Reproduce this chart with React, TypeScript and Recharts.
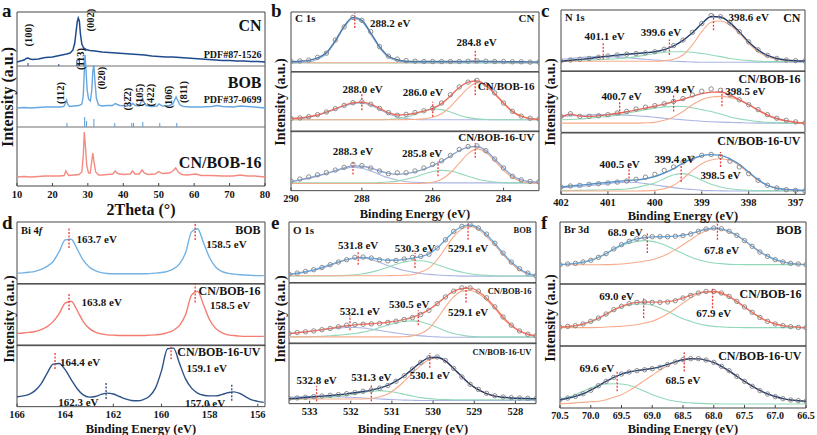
import React from "react";
import {
  ComposedChart,
  Line,
  Scatter,
  XAxis,
  YAxis,
  ReferenceArea,
  ReferenceLine,
  ReferenceDot,
} from "recharts";

const SERIF = "'Liberation Serif', 'Times New Roman', serif";
const INK = "#141414";
const FRAME = "#454545";
const PEACH = "#f8ab8b";
const MINT = "#92d8b9";
const LILAC = "#aab5e3";
const SKY = "#8fb8de";
const RED = "#ee3a3a";
const NAVY_MARK = "#31427e";
const PAD = 16; // room around each plot so edge labels are not clipped

// ---------- panel a: XRD ----------
const xrdTicks = [10, 20, 30, 40, 50, 60, 70, 80];

const cnTheta = [10, 11, 12, 12.6, 13.1, 13.7, 14.5, 16, 18, 20, 22, 24, 25, 25.8, 26.3, 26.7, 27.0, 27.3, 27.6, 27.9, 28.3, 28.8, 29.5, 30.5, 32, 34, 36, 38, 40, 42, 44, 46, 48, 50, 52, 54, 56, 58, 60, 62, 64, 66, 68, 70, 72, 74, 76, 78, 80];
const cnInt = [124, 125, 126, 127.5, 128, 127, 126.5, 127, 128.5, 129, 130.5, 132, 133, 136, 143, 155, 164, 168, 165, 152, 142, 138, 136.5, 135.5, 135, 134, 133.5, 133, 132.5, 132, 131.5, 131, 130, 129.5, 129, 129, 128.5, 128, 127.5, 127, 126.5, 126, 125.5, 125.5, 125, 125, 124.5, 124.5, 124];

const bobTheta = [10, 12, 14, 16, 18, 20, 22, 23.2, 23.7, 24.0, 24.3, 24.8, 26, 27.5, 28.3, 28.7, 29.0, 29.2, 29.45, 29.8, 30.2, 30.7, 31.1, 31.4, 31.7, 32.0, 32.4, 33, 34, 35.5, 37, 37.7, 38.3, 39, 41, 42.2, 42.7, 43.4, 44.5, 45.0, 45.4, 45.8, 46.5, 48, 49.5, 50.1, 51, 53, 54, 54.5, 54.9, 55.3, 56, 57, 59, 62, 65, 66.5, 68, 71, 73, 75, 77, 80];
const bobInt = [78, 78.5, 78, 78.5, 79, 79, 79, 79.5, 83, 86, 82, 79.5, 80, 80.5, 82, 90, 115, 131, 118, 96, 87, 85, 95, 115, 121, 105, 88, 81, 80, 80.5, 80.5, 82.5, 81.5, 80.5, 80, 81, 82.5, 80.5, 80, 84, 88, 84, 80.5, 79.5, 80, 82, 80, 80.5, 82, 86, 89, 86, 81, 79.5, 79, 79, 79.5, 80.5, 79.5, 79, 80, 79.5, 79, 78];

const mixTheta = [10, 12, 14, 16, 18, 20, 22, 23.3, 23.8, 24.1, 24.6, 26, 27.5, 28.3, 28.7, 29.0, 29.3, 29.7, 30.2, 30.7, 31.0, 31.4, 31.7, 32.2, 33, 34, 35.5, 37, 37.7, 38.4, 40, 42, 42.6, 43.3, 44.5, 45.3, 45.9, 47, 49, 50.0, 51, 53, 54, 54.8, 55.5, 56.5, 58, 60.5, 62, 65, 68, 71, 73, 75, 77, 80];
const mixInt = [9, 9.5, 9, 9.5, 10, 10, 10, 10.5, 15, 13, 10.5, 11, 11.5, 14, 30, 54, 40, 20, 13, 13, 22, 33, 25, 14, 11, 11, 11.5, 12, 15, 12.5, 11.5, 12, 15, 12, 12, 16, 13, 11.5, 12, 14.5, 12.5, 13, 15, 18, 14, 11.5, 11, 12, 10.5, 10.5, 10, 10, 11, 10, 10, 9];

const cnRefTheta = [13.1, 21.8, 26.9, 27.6];
const cnRefLen = [3, 2, 6, 8];
const bobRefTheta = [24.1, 29.1, 29.6, 31.7, 37.6, 42.4, 42.9, 45.5, 50.3, 55.1];
const bobRefLen = [4, 10, 6, 8, 4, 4, 4, 5, 4, 4];

const planes = [
  { text: "(100)", theta: 13.1, y: 151 },
  { text: "(002)", theta: 30.8, y: 166 },
  { text: "(112)", theta: 22.1, y: 93 },
  { text: "(113)", theta: 27.8, y: 127 },
  { text: "(020)", theta: 33.9, y: 108 },
  { text: "(32\u03042)", theta: 41.0, y: 87 },
  { text: "(105)", theta: 44.4, y: 91 },
  { text: "(422)", theta: 47.7, y: 91 },
  { text: "(106\u0304)", theta: 52.7, y: 89 },
  { text: "(811)", theta: 57.0, y: 94 },
];
const xrdTags = [
  { text: "CN", y: 161, size: 16 },
  { text: "PDF#87-1526", y: 132, size: 10 },
  { text: "BOB", y: 104, size: 16 },
  { text: "PDF#37-0699", y: 87, size: 10 },
  { text: "CN/BOB-16", y: 24, size: 16 },
];

// ---------- panel b: C 1s ----------
const bGrid = [290, 289.75, 289.5, 289.25, 289, 288.75, 288.5, 288.25, 288, 287.75, 287.5, 287.25, 287, 286.75, 286.5, 286.25, 286, 285.75, 285.5, 285.25, 285, 284.75, 284.5, 284.25, 284, 283.75, 283.5, 283.25, 283];
const b1Obs = [17, 18, 19.5, 24, 31, 53, 75, 91, 86, 67, 42, 26, 21, 18.5, 17.5, 17, 17, 17, 17, 17, 17.5, 18, 17.5, 17, 17, 16.5, 16.5, 16, 16];
const b1Fit = [16.5, 17.5, 19, 23, 32, 52, 76, 91, 86, 65, 42, 26, 20, 17.5, 17, 17, 17, 17, 17, 17, 17.2, 17.5, 17.2, 17, 16.8, 16.6, 16.5, 16.4, 16.3];
const b1Main = [15, 15.5, 16.5, 21, 30, 50, 74, 89, 84, 63, 40, 24, 18, 16, 15.5, 15.2, 15, 15, 15, 15, 15, 15, 15, 15, 15, 15, 15, 15, 15];
const b1Peach = [15, 15, 15, 15, 15, 15, 15, 15, 15, 15, 15, 15, 15, 15, 15, 15, 15, 15, 15.2, 15.6, 16.2, 16.5, 16.2, 15.6, 15.2, 15, 15, 15, 15];
const b1Mint = [14.5, 14.5, 14.5, 14.5, 14.5, 14.5, 14.5, 14.5, 14.5, 14.5, 14.5, 14.5, 14.5, 14.5, 14.5, 14.5, 14.5, 14.5, 14.5, 14.5, 14.5, 14.5, 14.5, 14.5, 14.5, 14.5, 14.5, 14.5, 14.5];
const b2Obs = [22, 23, 25, 28.5, 33, 38.5, 44, 48.5, 50, 46, 39, 32, 27.5, 29, 32, 35, 39, 48, 62, 75, 83, 86, 79, 65, 48, 34, 26, 22.5, 21];
const b2Fit = [22, 23, 25, 28, 33, 38.5, 44, 48.5, 49.5, 46, 39, 32, 28, 28.5, 31, 34.5, 39, 47, 60, 74, 83, 85, 78, 64, 48, 34, 26, 22, 20.5];
const b2Peach = [20, 20, 20, 20, 20, 20, 20, 20, 20, 20, 20, 20, 20, 20.2, 20.5, 21.5, 24, 30, 42, 58, 73, 82, 77, 63, 47, 33, 25.5, 21.5, 20.5];
const b2Mint = [20, 20, 20, 20, 20, 20, 20, 20, 20, 20, 20, 20.5, 21.5, 24, 29, 34.5, 38, 37, 33, 27.5, 23.5, 21.5, 20.5, 20, 20, 20, 20, 20, 20];
const b2Lilac = [21, 22, 24, 27.5, 32, 37.5, 43, 47, 48, 44, 37, 30, 25, 22, 20.5, 20, 20, 20, 20, 20, 20, 20, 20, 20, 20, 20, 20, 20, 20];
const b3Obs = [16, 19.5, 23, 26.5, 30, 34.5, 39, 44, 42, 38, 33, 28.5, 30, 30, 33, 38, 44, 50, 59, 69, 74, 75, 67, 53, 38, 24, 18, 15.5, 15];
const b3Fit = [15, 18, 21.5, 25, 29, 33.5, 38, 41.5, 41, 38, 33, 29, 27.5, 28.5, 31.5, 36, 42, 49, 58, 67, 73, 74, 67, 53, 38, 25, 18, 15, 14];
const b3Lilac = [15, 17.5, 20.5, 24.5, 28.5, 33, 37, 39, 37.5, 33, 27, 21.5, 17.5, 15, 14, 13.5, 13, 13, 13, 13, 13, 13, 13, 13, 13, 13, 13, 13, 13];
const b3Mint = [13, 13, 13, 13, 13, 13, 13, 13, 13, 13, 13.5, 14.5, 16, 19, 23, 28, 32, 34, 33, 29, 24, 19.5, 16.5, 14.5, 13.5, 13, 13, 13, 13];
const b3Peach = [12, 12, 12, 12, 12, 12, 12, 12, 12, 12, 12, 12, 12, 12, 12, 12.5, 14, 19, 30, 46, 62, 70, 64, 50, 34, 22, 15.5, 13, 12];

// ---------- panel c: N 1s ----------
const cGrid = [402, 401.8, 401.6, 401.4, 401.2, 401, 400.8, 400.6, 400.4, 400.2, 400, 399.8, 399.6, 399.4, 399.2, 399, 398.8, 398.6, 398.4, 398.2, 398, 397.8, 397.6, 397.4, 397.2, 397, 396.8];
const c1Obs = [16.8, 18.5, 19.6, 21, 23, 25, 26.6, 28, 29, 30, 32, 36, 42, 51, 63.6, 78, 91, 89, 79, 64.7, 48, 35, 26, 21, 18.5, 17.4, 16.8];
const c1Fit = [16.5, 18, 19.5, 21, 23, 24.8, 26.5, 27.8, 29, 30.2, 32, 35.5, 41.5, 50.5, 63, 77.5, 89.5, 88.5, 79, 64.5, 48, 35, 26, 21, 18.5, 17.2, 16.8];
const c1Peach = [16.5, 16.5, 16.5, 16.5, 16.5, 16.5, 16.5, 16.5, 16.5, 16.5, 16.5, 17.4, 19.6, 26.6, 43, 64.7, 80, 82, 75.5, 62, 45.7, 32, 24, 19.6, 17.4, 16.8, 16.5];
const c1Mint = [17, 17.5, 18, 18.5, 19, 19.6, 20.5, 22, 24, 26.5, 29, 31, 32, 32, 31, 29, 26.6, 24, 21, 19, 17.4, 16.5, 15.8, 15.8, 15.8, 15.8, 15.8];
const c1Lilac = [19.6, 21, 22.5, 23.5, 24, 24, 23.5, 22.5, 21, 19.6, 18.5, 17.4, 16.5, 15.8, 15.3, 14.7, 14.7, 14.7, 14.7, 14.7, 14.7, 14.7, 14.7, 14.7, 14.7, 14.7, 14.7];
const c2Obs = [26, 30.4, 26, 26, 27, 28.8, 31.5, 34, 38, 41, 43.5, 46.7, 50.5, 55, 61, 67, 70.7, 68.5, 61.4, 53, 45, 37, 28.8, 23, 19.6, 17, 15.2];
const c2Fit = [25, 29.5, 26.5, 26, 27, 28.8, 31, 33.5, 36.5, 39.5, 42.5, 46, 50, 54, 58.7, 63, 65.5, 65.8, 61, 53, 45, 36.5, 28.5, 22.5, 19, 16.5, 15];
const c2Peach = [15, 15, 15, 15, 15, 15, 15, 15, 15, 15.5, 16.3, 19.6, 25, 34, 45, 53, 57.5, 58.7, 57, 53, 45, 36, 27, 21.7, 18, 15.8, 14.7];
const c2Mint = [20.6, 21, 21.7, 23, 24.5, 26, 28, 31, 34, 37, 39.5, 41.5, 42.4, 42, 40, 37, 34, 30, 25, 22, 19.6, 17.5, 16.3, 15.5, 15, 15, 15];
const c2Lilac = [25, 26.5, 27.5, 28.3, 28.8, 28.8, 28.5, 28, 27, 26, 24.5, 23, 21.7, 20.5, 19.3, 18, 17.2, 16.6, 16.2, 15.8, 15.2, 15, 15, 15, 15, 15, 15];
const c3Obs = [12, 13.6, 14.7, 16.3, 17.4, 18.5, 20, 21.7, 24.5, 28, 32.6, 39, 44.6, 52.7, 59, 63.6, 65, 62, 54, 44.6, 33.7, 22.8, 14.7, 10.3, 7.6, 6.5, 5.4];
const c3Fit = [12, 13.6, 15, 16.5, 18, 19.5, 21, 22.5, 23.5, 25.5, 29, 34.8, 41.8, 51, 58, 63, 64.7, 63.6, 58, 49, 36.4, 24, 14.7, 10, 8, 7, 6.5];
const c3Peach = [5.4, 5.4, 5.4, 5.4, 5.4, 5.4, 5.4, 5.4, 5.4, 5.6, 6.5, 9, 14.7, 25.5, 39, 50, 56, 58, 55.4, 47, 35, 22.8, 14.7, 9.8, 7.6, 6.5, 6];
const c3Mint = [6, 6.2, 6.5, 6.8, 7, 7.5, 8, 8.7, 10.9, 14.7, 18.5, 25.5, 32, 33.7, 30, 22.8, 16.3, 12, 9.2, 7.5, 6.5, 6, 6, 6, 6, 6, 6];
const c3Lilac = [10.9, 11.8, 13, 14, 15.5, 17.4, 18.8, 19.6, 19.4, 17.4, 15.2, 13, 11, 9.2, 7.8, 6.5, 6, 5.7, 5.4, 5.4, 5.4, 5.4, 5.4, 5.4, 5.4, 5.4, 5.4];

// ---------- panel d: Bi 4f ----------
const dGrid = [166, 165.75, 165.5, 165.25, 165, 164.75, 164.5, 164.25, 164, 163.75, 163.5, 163.25, 163, 162.75, 162.5, 162.25, 162, 161.75, 161.5, 161.25, 161, 160.75, 160.5, 160.25, 160, 159.75, 159.5, 159.25, 159, 158.75, 158.5, 158.25, 158, 157.75, 157.5, 157.25, 157, 156.75, 156.5, 156.25, 156, 155.75];
const d1Fit = [17, 17.5, 18.5, 20, 23, 28, 36, 52, 71, 72, 56, 38, 27, 21, 18, 16.5, 16, 16, 16, 16, 16, 16, 16.3, 17, 18, 20, 24, 32, 50, 84, 89, 66, 42, 27, 20, 17, 15.5, 14.5, 14, 13.5, 13, 13];
const d2Fit = [20, 20.5, 21.5, 23, 26, 31, 39, 52, 69, 72, 57, 39, 28, 22, 19, 17.5, 17, 16.5, 16.5, 16.5, 16.5, 16.5, 17, 17.5, 18.5, 21, 25, 33, 50, 82, 88, 66, 42, 28, 21, 17.5, 16.5, 15.5, 15, 15, 15, 15];
const d3Fit = [16, 17.5, 20, 26, 37, 54, 69, 70, 60, 44, 29, 19, 15.5, 16.5, 20, 22, 20.5, 16.5, 12.5, 10, 9.5, 11.5, 17, 30, 58, 94, 95, 70, 45, 30, 22, 18.5, 17.5, 17.5, 19.5, 22.5, 24, 21.5, 16, 11, 8.5, 7];

// ---------- panel e: O 1s ----------
const eGrid = [533.5, 533.3, 533.1, 532.9, 532.7, 532.5, 532.3, 532.1, 531.9, 531.7, 531.5, 531.3, 531.1, 530.9, 530.7, 530.5, 530.3, 530.1, 529.9, 529.7, 529.5, 529.3, 529.1, 528.9, 528.7, 528.5, 528.3, 528.1, 527.9, 527.7, 527.5];
const e1Obs = [14, 15.8, 18.5, 21.3, 25, 29.6, 34, 37.8, 41.7, 42.2, 40.6, 37.8, 36, 36.6, 39, 41.7, 43.3, 47, 57, 70.7, 84.6, 92.8, 95.6, 90, 80, 65, 48.8, 34, 23, 15.8, 11.4];
const e1Fit = [13.5, 15.5, 18, 21, 25, 29.5, 34, 38, 40.5, 41.5, 40.5, 38.5, 37, 37, 38.5, 40.5, 43, 47.5, 57, 70.5, 84, 92.5, 95, 90, 79.5, 64.5, 48.5, 34, 23, 15.5, 11.5];
const e1Peach = [11.4, 11.4, 11.4, 11.4, 11.4, 11.4, 11.4, 11.4, 11.4, 11.4, 11.4, 11.4, 11.5, 11.7, 12.2, 13, 17.4, 24, 37.8, 57, 76, 89, 92.8, 87.4, 76, 62, 46, 32, 21, 14.6, 11.4];
const e1Mint = [11, 11, 11, 11, 11, 11, 11.4, 12, 13, 14.6, 17.4, 21, 25.5, 30.5, 34, 36, 36, 34, 29.6, 25, 20.7, 17.4, 14.6, 13, 12, 11.4, 11, 11, 11, 11, 11];
const e1Lilac = [14, 15.5, 17.4, 20.5, 24, 28.5, 33.5, 37.8, 40.6, 40.6, 37.8, 33.5, 28.4, 24, 20, 17.4, 15.2, 13.6, 12.5, 11.8, 11.4, 10.8, 10.8, 10.8, 10.8, 10.8, 10.8, 10.8, 10.8, 10.8, 10.8];
const e2Obs = [16.7, 18.3, 19.5, 21, 23, 25, 27.7, 30.4, 31.5, 32, 32.6, 33.2, 35, 37, 39.8, 43, 48, 55, 66, 77, 86.6, 92, 92, 86.6, 75.6, 60.7, 44, 30.4, 21, 15.6, 12.8];
const e2Fit = [16.5, 18, 19.5, 21, 23, 25, 27.5, 29.5, 31, 32, 32.8, 33.8, 35.2, 37.2, 40, 43.5, 48.5, 56, 66, 77, 86, 91, 91.5, 86, 75, 60, 44, 30.5, 21, 15.5, 12.5];
const e2Peach = [11.2, 11.2, 11.2, 11.2, 11.2, 11.2, 11.2, 11.2, 11.2, 11.2, 11.2, 11.2, 11.2, 11.2, 11.5, 12.8, 16.7, 25, 41.4, 60.7, 77, 86.6, 87.7, 82.7, 71.7, 58, 41.4, 29.3, 20.5, 15.6, 12.8];
const e2Mint = [11.2, 11.2, 11.5, 11.8, 12.2, 13, 14, 15.3, 16.7, 19, 22, 26.6, 30.4, 34, 37, 37.6, 36, 32, 26.6, 21, 16.7, 14, 12, 11.5, 11.2, 11.2, 11.2, 11.2, 11.2, 11.2, 11.2];
const e2Lilac = [16.7, 18, 19.5, 21.2, 23, 24.8, 26, 26.6, 26.6, 25.8, 24, 21.8, 19.5, 17.5, 15.6, 14, 12.8, 11.8, 11.2, 10.6, 10.6, 10.6, 10.6, 10.6, 10.6, 10.6, 10.6, 10.6, 10.6, 10.6, 10.6];
const e3Obs = [8.3, 9.4, 10.5, 11.6, 12.7, 13.8, 14.9, 16.5, 18.2, 20.4, 22.5, 25.5, 30, 37, 46, 57, 68, 76, 77, 71, 58, 44, 32, 23.5, 17, 13, 11, 9.9, 9.4, 8.8, 8.3];
const e3Fit = [8, 9, 10.2, 11.3, 12.4, 13.5, 14.7, 16.2, 18, 20, 22.4, 25.5, 30, 37, 46, 57, 68, 75.5, 76.5, 70.5, 58, 44.5, 32, 23, 16.5, 12.5, 10.5, 9.4, 8.8, 8.4, 8];
const e3Peach = [7.7, 7.7, 7.7, 7.7, 7.7, 7.7, 7.7, 7.7, 7.7, 7.7, 8.5, 11, 16, 25, 37, 50, 63, 72.5, 75.5, 70, 57.5, 44, 31.5, 22.5, 16.5, 12.5, 10.5, 9.4, 8.8, 8.4, 8];
const e3Mint = [7.2, 7.5, 8, 8.6, 9.4, 10.5, 12, 13.8, 16, 18.5, 20.5, 21.5, 20.5, 18.5, 15.5, 12.5, 10, 8.3, 7.3, 6.8, 6.5, 6.5, 6.5, 6.5, 6.5, 6.5, 6.5, 6.5, 6.5, 6.5, 6.5];
const e3Lilac = [10.5, 11.3, 11.8, 12, 12, 11.8, 11.4, 10.8, 10.2, 9.4, 8.6, 7.8, 7, 6.4, 5.9, 5.5, 5.2, 5.2, 5.2, 5.2, 5.2, 5.2, 5.2, 5.2, 5.2, 5.2, 5.2, 5.2, 5.2, 5.2, 5.2];

// ---------- panel f: Br 3d ----------
const fGrid = [70.5, 70.375, 70.25, 70.125, 70, 69.875, 69.75, 69.625, 69.5, 69.375, 69.25, 69.125, 69, 68.875, 68.75, 68.625, 68.5, 68.375, 68.25, 68.125, 68, 67.875, 67.75, 67.625, 67.5, 67.375, 67.25, 67.125, 67, 66.875, 66.75, 66.625, 66.5];
const f1Obs = [31.2, 32.3, 33.3, 35.5, 38.2, 43, 49, 56.5, 63.4, 68.8, 73, 75.3, 76.3, 76.3, 76.3, 77, 78, 80.6, 85, 88.7, 90.3, 89.2, 85, 78.5, 70, 60.8, 51.6, 44.6, 39.2, 35.5, 33.3, 32.3, 31.2];
const f1Fit = [31, 32, 33.3, 35.3, 38.3, 43, 49, 56.3, 63, 68.6, 72.7, 75, 76, 76.2, 76.4, 77.2, 78.6, 81.3, 85, 88.3, 89.8, 89, 85, 78.5, 70, 60.8, 52, 45, 39.5, 35.7, 33.3, 32, 31.2];
const f1Mint = [31.2, 32, 33, 35.2, 38.2, 43, 49, 56, 61.8, 66, 68.8, 70, 68.8, 65.6, 60.8, 54.8, 49, 43.5, 39.2, 36, 33.9, 32.8, 31.7, 31.4, 31.2, 31.2, 31.2, 31.2, 31.2, 31.2, 31.2, 31.2, 31.2];
const f1Peach = [31, 31, 31, 31, 31, 31, 31.2, 31.6, 32.3, 33.5, 35, 37, 39.2, 43, 48.4, 55.4, 63.4, 71.5, 79.6, 86, 89.2, 88, 83.9, 78, 70, 60.8, 51.6, 44.6, 39.2, 35.5, 33.3, 32.3, 31.2];
const f2Obs = [30.6, 31.7, 32.8, 35.5, 39.8, 45, 51.6, 58.6, 64, 68.3, 70.4, 71, 70.4, 70.4, 71, 73, 77.4, 81.7, 85.5, 88, 88, 85.5, 80, 72, 63, 54.3, 46, 39.8, 35.5, 32.8, 31.2, 30, 29.6];
const f2Fit = [30.5, 31.5, 32.8, 35.5, 39.6, 45, 51.5, 58.3, 63.8, 68, 70.3, 71, 70.8, 70.8, 71.5, 73.5, 77.5, 81.8, 85.3, 87.5, 87.8, 85.5, 80, 72, 63, 54.3, 46.3, 40, 35.5, 32.8, 31.2, 30.2, 29.6];
const f2Mint = [30, 31, 32.3, 35, 38.7, 44, 50.5, 57.5, 63, 66.7, 67.7, 67.7, 65.6, 61.3, 56, 49.5, 44, 39.8, 36, 33.3, 31.7, 30.8, 30, 29.8, 29.6, 29.6, 29.6, 29.6, 29.6, 29.6, 29.6, 29.6, 29.6];
const f2Peach = [29.6, 29.6, 29.6, 29.6, 29.6, 29.8, 30.6, 31.2, 31.7, 33, 34.4, 37, 39.8, 45, 52, 60, 69.4, 77.4, 83.9, 87, 87, 83.9, 78.5, 71, 62.4, 53.8, 46, 39.8, 35.5, 32.8, 31.2, 30, 29.6];
const f3Obs = [13.4, 16, 18.8, 23, 28.5, 36, 43, 49.5, 54.8, 58, 60.2, 61.8, 63.4, 65.6, 70, 74.2, 78, 79.6, 79.6, 77.4, 73.7, 67.2, 60.2, 51, 43, 35, 28, 22.6, 18.3, 15, 12.9, 11.8, 10.8];
const f3Fit = [13, 15.8, 18.8, 23, 28.7, 35.8, 42.8, 49.3, 54.5, 58, 60.3, 62, 63.8, 66.3, 70.3, 74.5, 77.8, 79.5, 79.3, 77.2, 73.5, 67.2, 60, 51.2, 43, 35.2, 28.3, 22.8, 18.5, 15.2, 13, 11.8, 10.8];
const f3Mint = [14.5, 17.2, 21.5, 27, 32.3, 36.6, 38.7, 39.2, 38.7, 36.6, 32.3, 27, 21.5, 17.2, 13.4, 10.8, 9.1, 8.2, 7.5, 7, 6.7, 6.5, 6.5, 6.5, 6.5, 6.5, 6.5, 6.5, 6.5, 6.5, 6.5, 6.5, 6.5];
const f3Peach = [6.5, 7.5, 8.2, 9, 10, 10.8, 13.4, 17.2, 21.5, 28, 36, 44.6, 52.7, 60.8, 68.3, 74.2, 78, 79.6, 79, 77, 72.6, 66.7, 59, 50.5, 43, 35, 28, 22.6, 18.3, 15, 12.9, 11.8, 10.8];

// ---------- types & helpers ----------
type Comp = { vals: number[]; color: string };
type Mark = { e: number; lo: number; hi: number; color?: string };
type Note = { e: number; y: number; text: string };
type Sub = {
  tag: string;
  tagY: number;
  color: string;
  obs?: number[];
  fit: number[];
  comps: Comp[];
  marks: Mark[];
  notes: Note[];
};
type XpsSpec = {
  left: number;
  top: number;
  width: number;
  height: number;
  domain: [number, number];
  ticks: number[];
  fmt?: (v: number) => string;
  tickSize?: number;
  grid: number[];
  element: string;
  elementItalic?: string;
  elementY: number;
  elementSize: number;
  tagSize: number;
  noteSize: number;
  subs: Sub[];
};

const pts = (xs: number[], ys: number[]) => xs.map((x, i) => ({ x, y: ys[i] }));

const tickFont = { fontSize: 10.5, fontWeight: 700, fill: INK, fontFamily: SERIF };

function Ring(props: any) {
  const { cx, cy } = props;
  if (cx == null || cy == null) return null;
  return <circle cx={cx} cy={cy} r={2.2} fill="none" stroke="#828282" strokeWidth={0.9} />;
}

const panelB: XpsSpec = {
  left: 291, top: 12, width: 248, height: 179, domain: [290, 283], ticks: [290, 288, 286, 284], grid: bGrid,
  element: "C 1s", elementY: 89, elementSize: 11, tagSize: 11, noteSize: 11,
  subs: [
    {
      tag: "CN", tagY: 90, color: "#4677ad", obs: b1Obs, fit: b1Fit,
      comps: [{ vals: b1Mint, color: MINT }, { vals: b1Peach, color: PEACH }, { vals: b1Main, color: SKY }],
      marks: [{ e: 288.2, lo: 73, hi: 98 }, { e: 284.8, lo: 14, hi: 36 }],
      notes: [{ e: 287.2, y: 82, text: "288.2 eV" }, { e: 284.76, y: 50, text: "284.8 eV" }],
    },
    {
      tag: "CN/BOB-16", tagY: 76, color: "#f26b5b", obs: b2Obs, fit: b2Fit,
      comps: [{ vals: b2Lilac, color: LILAC }, { vals: b2Mint, color: MINT }, { vals: b2Peach, color: PEACH }],
      marks: [{ e: 288.0, lo: 36, hi: 64 }, { e: 286.0, lo: 25, hi: 50 }, { e: 284.8, lo: 61, hi: 89 }],
      notes: [{ e: 287.98, y: 72, text: "288.0 eV" }, { e: 286.28, y: 66, text: "286.0 eV" }],
    },
    {
      tag: "CN/BOB-16-UV", tagY: 89, color: "#8ea6d6", obs: b3Obs, fit: b3Fit,
      comps: [{ vals: b3Lilac, color: LILAC }, { vals: b3Mint, color: MINT }, { vals: b3Peach, color: PEACH }],
      marks: [{ e: 288.25, lo: 27, hi: 49 }, { e: 285.85, lo: 24, hi: 49 }, { e: 284.8, lo: 55, hi: 80 }],
      notes: [{ e: 288.25, y: 66, text: "288.3 eV" }, { e: 286.3, y: 63, text: "285.8 eV" }],
    },
  ],
};

const panelC: XpsSpec = {
  left: 561, top: 10, width: 244, height: 184, domain: [402, 396.8], ticks: [402, 401, 400, 399, 398, 397], grid: cGrid,
  element: "N 1s", elementY: 88, elementSize: 10.5, tagSize: 12, noteSize: 11,
  subs: [
    {
      tag: "CN", tagY: 88, color: "#1f3d70", obs: c1Obs, fit: c1Fit,
      comps: [{ vals: c1Lilac, color: LILAC }, { vals: c1Mint, color: MINT }, { vals: c1Peach, color: PEACH }],
      marks: [{ e: 401.1, lo: 19.6, hi: 45.7 }, { e: 399.69, lo: 26.6, hi: 52 }, { e: 398.75, lo: 67, hi: 95 }],
      notes: [{ e: 401.07, y: 57.6, text: "401.1 eV" }, { e: 399.87, y: 64.7, text: "399.6 eV" }, { e: 398.0, y: 89, text: "398.6 eV" }],
    },
    {
      tag: "CN/BOB-16", tagY: 87, color: "#f0655a", obs: c2Obs, fit: c2Fit,
      comps: [{ vals: c2Lilac, color: LILAC }, { vals: c2Mint, color: MINT }, { vals: c2Peach, color: PEACH }],
      marks: [{ e: 400.75, lo: 28.8, hi: 50.5 }, { e: 399.6, lo: 34, hi: 61.4 }, { e: 398.57, lo: 42.4, hi: 72.3 }],
      notes: [{ e: 400.71, y: 58.7, text: "400.7 eV" }, { e: 399.58, y: 70.7, text: "399.4 eV" }, { e: 398.07, y: 66.8, text: "398.5 eV" }],
    },
    {
      tag: "CN/BOB-16-UV", tagY: 87, color: "#4f95d3", obs: c3Obs, fit: c3Fit,
      comps: [{ vals: c3Lilac, color: LILAC }, { vals: c3Mint, color: MINT }, { vals: c3Peach, color: PEACH }],
      marks: [{ e: 400.55, lo: 20, hi: 42 }, { e: 399.44, lo: 20, hi: 47 }, { e: 398.6, lo: 44.6, hi: 69 }],
      notes: [{ e: 400.75, y: 50, text: "400.5 eV" }, { e: 399.58, y: 58, text: "399.4 eV" }, { e: 398.6, y: 31.5, text: "398.5 eV" }],
    },
  ],
};

const panelD: XpsSpec = {
  left: 17, top: 222, width: 248, height: 185, domain: [166, 155.7], ticks: [166, 164, 162, 160, 158, 156], grid: dGrid,
  element: "Bi 4", elementItalic: "f", elementY: 87, elementSize: 10.5, tagSize: 12, noteSize: 11,
  subs: [
    {
      tag: "BOB", tagY: 87.6, color: "#72b2e4", fit: d1Fit, comps: [],
      marks: [{ e: 163.84, lo: 58, hi: 90 }, { e: 158.6, lo: 71, hi: 100 }],
      notes: [{ e: 162.69, y: 73, text: "163.7 eV" }, { e: 157.3, y: 64, text: "158.5 eV" }],
    },
    {
      tag: "CN/BOB-16", tagY: 88.8, color: "#f47c70", fit: d2Fit, comps: [],
      marks: [{ e: 163.84, lo: 58, hi: 85 }, { e: 158.6, lo: 70, hi: 100 }],
      notes: [{ e: 162.48, y: 70.4, text: "163.8 eV" }, { e: 157.15, y: 65, text: "158.5 eV" }],
    },
    {
      tag: "CN/BOB-16-UV", tagY: 89, color: "#2e5288", fit: d3Fit, comps: [],
      marks: [
        { e: 164.42, lo: 61, hi: 88 },
        { e: 159.6, lo: 77, hi: 99 },
        { e: 162.3, lo: 12.4, hi: 39, color: NAVY_MARK },
        { e: 157.08, lo: 9.7, hi: 36.7, color: NAVY_MARK },
      ],
      notes: [
        { e: 163.38, y: 71.8, text: "164.4 eV" },
        { e: 158.12, y: 62.6, text: "159.1 eV" },
        { e: 163.45, y: 8, text: "162.3 eV" },
        { e: 158.19, y: 6, text: "157.0 eV" },
      ],
    },
  ],
};

const panelE: XpsSpec = {
  left: 289, top: 222, width: 247, height: 182, domain: [533.5, 527.5], ticks: [533, 532, 531, 530, 529, 528], grid: eGrid,
  element: "O 1s", elementY: 87, elementSize: 11, tagSize: 8.5, noteSize: 11,
  subs: [
    {
      tag: "BOB", tagY: 87, color: "#6aa8dd", obs: e1Obs, fit: e1Fit,
      comps: [{ vals: e1Lilac, color: LILAC }, { vals: e1Mint, color: MINT }, { vals: e1Peach, color: PEACH }],
      marks: [{ e: 531.82, lo: 29.6, hi: 52.7 }, { e: 530.44, lo: 24, hi: 48.8 }, { e: 529.15, lo: 70.7, hi: 98 }],
      notes: [{ e: 531.82, y: 62.5, text: "531.8 eV" }, { e: 530.44, y: 57, text: "530.3 eV" }, { e: 529.15, y: 57, text: "529.1 eV" }],
    },
    {
      tag: "CN/BOB-16", tagY: 86.6, color: "#f27565", obs: e2Obs, fit: e2Fit,
      comps: [{ vals: e2Lilac, color: LILAC }, { vals: e2Mint, color: MINT }, { vals: e2Peach, color: PEACH }],
      marks: [{ e: 532.02, lo: 22, hi: 47 }, { e: 530.36, lo: 30.4, hi: 55 }, { e: 529.2, lo: 67.8, hi: 96.5 }],
      notes: [{ e: 531.78, y: 53.6, text: "532.1 eV" }, { e: 530.58, y: 66, text: "530.5 eV" }, { e: 529.15, y: 52.5, text: "529.1 eV" }],
    },
    {
      tag: "CN/BOB-16-UV", tagY: 85, color: "#1f3a6c", obs: e3Obs, fit: e3Fit,
      comps: [{ vals: e3Lilac, color: LILAC }, { vals: e3Mint, color: MINT }, { vals: e3Peach, color: PEACH }],
      marks: [{ e: 532.83, lo: 4, hi: 28.6 }, { e: 531.5, lo: 4, hi: 30 }, { e: 530.08, lo: 59, hi: 83.7 }],
      notes: [{ e: 532.83, y: 38.5, text: "532.8 eV" }, { e: 531.5, y: 44, text: "531.3 eV" }, { e: 530.08, y: 46.8, text: "530.1 eV" }],
    },
  ],
};

const panelF: XpsSpec = {
  left: 560, top: 222, width: 246, height: 186, domain: [70.5, 66.5],
  ticks: [70.5, 70, 69.5, 69, 68.5, 68, 67.5, 67, 66.5], fmt: (v: number) => v.toFixed(1), tickSize: 10, grid: fGrid,
  element: "Br 3d", elementY: 87.6, elementSize: 10.5, tagSize: 12, noteSize: 11,
  subs: [
    {
      tag: "BOB", tagY: 87.6, color: "#6aa8dd", obs: f1Obs, fit: f1Fit,
      comps: [{ vals: f1Mint, color: MINT }, { vals: f1Peach, color: PEACH }],
      marks: [{ e: 69.08, lo: 50, hi: 82 }, { e: 67.94, lo: 71.5, hi: 98 }],
      notes: [{ e: 69.44, y: 84, text: "68.9 eV" }, { e: 67.87, y: 55.4, text: "67.8 eV" }],
    },
    {
      tag: "CN/BOB-16", tagY: 84.4, color: "#f27565", obs: f2Obs, fit: f2Fit,
      comps: [{ vals: f2Mint, color: MINT }, { vals: f2Peach, color: PEACH }],
      marks: [{ e: 69.14, lo: 45, hi: 79 }, { e: 68.02, lo: 61, hi: 92.5 }],
      notes: [{ e: 69.58, y: 80, text: "69.0 eV" }, { e: 68.0, y: 53, text: "67.9 eV" }],
    },
    {
      tag: "CN/BOB-16-UV", tagY: 85, color: "#243f72", obs: f3Obs, fit: f3Fit,
      comps: [{ vals: f3Mint, color: MINT }, { vals: f3Peach, color: PEACH }],
      marks: [{ e: 69.57, lo: 27, hi: 59 }, { e: 68.48, lo: 59, hi: 90 }],
      notes: [{ e: 69.9, y: 64.5, text: "69.6 eV" }, { e: 68.5, y: 45.7, text: "68.5 eV" }],
    },
  ],
};

function XpsPanel({ p }: { p: XpsSpec }) {
  const h = p.height / 3;
  const axisH = 24;
  const [first, second] = p.domain;
  const lo = Math.min(first, second);
  const hi = Math.max(first, second);
  const labelBase = { fontFamily: SERIF, fontWeight: 700, fill: INK };
  return (
    <>
      {p.subs.map((s, i) => {
        const last = i === 2;
        return (
          <div key={s.tag} style={{ position: "absolute", left: p.left - PAD, top: p.top + i * h - PAD }}>
            <ComposedChart
              width={p.width + 2 * PAD}
              height={h + 2 * PAD + (last ? axisH : 0)}
              margin={{ top: PAD, right: PAD, left: PAD, bottom: PAD }}
            >
              <XAxis
                dataKey="x"
                type="number"
                domain={[lo, hi]}
                reversed={first > second}
                allowDataOverflow
                ticks={p.ticks}
                interval={0}
                hide={!last}
                height={axisH}
                tickSize={-3}
                tickMargin={7}
                axisLine={false}
                tickLine={{ stroke: FRAME }}
                tick={{ ...tickFont, fontSize: p.tickSize ?? 10.5 }}
                tickFormatter={p.fmt}
              />
              <YAxis dataKey="y" type="number" domain={[0, 100]} hide allowDataOverflow />
              {s.comps.map((c, k) => (
                <Line
                  key={k}
                  data={pts(p.grid, c.vals)}
                  dataKey="y"
                  stroke={c.color}
                  strokeWidth={1.1}
                  dot={false}
                  type="monotone"
                  isAnimationActive={false}
                />
              ))}
              {s.obs && (
                <Scatter data={pts(p.grid, s.obs)} dataKey="y" shape={Ring} isAnimationActive={false} />
              )}
              <Line
                data={pts(p.grid, s.fit)}
                dataKey="y"
                stroke={s.color}
                strokeWidth={1.4}
                dot={false}
                type="monotone"
                isAnimationActive={false}
              />
              <ReferenceArea x1={lo} x2={hi} y1={0} y2={100} fill="none" stroke={FRAME} strokeWidth={1} ifOverflow="visible" />
              {s.marks.map((m, k) => (
                <ReferenceLine
                  key={`m${k}`}
                  segment={[{ x: m.e, y: m.lo }, { x: m.e, y: m.hi }]}
                  stroke={m.color ?? RED}
                  strokeWidth={1.3}
                  strokeDasharray="2 1.5"
                  ifOverflow="visible"
                />
              ))}
              {s.notes.map((n, k) => (
                <ReferenceDot
                  key={`n${k}`}
                  x={n.e}
                  y={n.y}
                  r={0.5}
                  fill="none"
                  stroke="none"
                  ifOverflow="visible"
                  label={{ value: n.text, position: "center", fontSize: p.noteSize, ...labelBase }}
                />
              ))}
              <ReferenceDot
                x={second}
                y={s.tagY}
                r={0.5}
                fill="none"
                stroke="none"
                ifOverflow="visible"
                label={{ value: s.tag, position: "left", offset: 4, fontSize: p.tagSize, ...labelBase }}
              />
              {i === 0 && (
                <ReferenceDot
                  x={first}
                  y={p.elementY}
                  r={0.5}
                  fill="none"
                  stroke="none"
                  ifOverflow="visible"
                  label={(props: any) => {
                    const vb = props.viewBox || {};
                    const x = (vb.x ?? 0) + (vb.width ?? 0) / 2 + 4;
                    const y = (vb.y ?? 0) + (vb.height ?? 0) / 2;
                    return (
                      <text x={x} y={y} dy="0.35em" fontFamily={SERIF} fontWeight={700} fontSize={p.elementSize} fill={INK}>
                        {p.element}
                        {p.elementItalic && <tspan fontStyle="italic">{p.elementItalic}</tspan>}
                      </text>
                    );
                  }}
                />
              )}
            </ComposedChart>
          </div>
        );
      })}
    </>
  );
}

function XrdPanel() {
  const W = 248;
  const H = 174;
  const axisH = 24;
  const labelBase = { fontFamily: SERIF, fontWeight: 700, fill: INK };
  return (
    <div style={{ position: "absolute", left: 17 - PAD, top: 12 - PAD }}>
      <ComposedChart width={W + 2 * PAD} height={H + 2 * PAD + axisH} margin={{ top: PAD, right: PAD, bottom: PAD, left: PAD }}>
        <XAxis
          dataKey="x"
          type="number"
          domain={[10, 80]}
          ticks={xrdTicks}
          interval={0}
          height={axisH}
          tickSize={-3}
          tickMargin={8}
          axisLine={false}
          tickLine={{ stroke: FRAME }}
          tick={tickFont}
          allowDataOverflow
        />
        <YAxis dataKey="y" type="number" domain={[0, H]} hide allowDataOverflow />
        <ReferenceArea x1={10} x2={80} y1={0} y2={H} fill="none" stroke={FRAME} ifOverflow="visible" />
        <ReferenceLine y={120} stroke="#6e6e6e" />
        <ReferenceLine y={59} stroke="#6e6e6e" />
        {cnRefTheta.map((t, k) => (
          <ReferenceLine key={`cr${k}`} segment={[{ x: t, y: 120 }, { x: t, y: 120 + cnRefLen[k] }]} stroke="#1f4a8e" />
        ))}
        {bobRefTheta.map((t, k) => (
          <ReferenceLine key={`br${k}`} segment={[{ x: t, y: 59 }, { x: t, y: 59 + bobRefLen[k] }]} stroke="#5a9ad6" />
        ))}
        <Line data={pts(cnTheta, cnInt)} dataKey="y" stroke="#1f4a8e" strokeWidth={1.5} dot={false} type="linear" isAnimationActive={false} />
        <Line data={pts(bobTheta, bobInt)} dataKey="y" stroke="#67a8e0" strokeWidth={1.4} dot={false} type="linear" isAnimationActive={false} />
        <Line data={pts(mixTheta, mixInt)} dataKey="y" stroke="#f58a80" strokeWidth={1.4} dot={false} type="linear" isAnimationActive={false} />
        {xrdTags.map((t) => (
          <ReferenceDot
            key={t.text}
            x={80}
            y={t.y}
            r={0.5}
            fill="none"
            stroke="none"
            ifOverflow="visible"
            label={{ value: t.text, position: "left", offset: 3, fontSize: t.size, ...labelBase }}
          />
        ))}
        {planes.map((pl) => (
          <ReferenceDot
            key={pl.text}
            x={pl.theta}
            y={pl.y}
            r={0.5}
            fill="none"
            stroke="none"
            ifOverflow="visible"
            label={{ value: pl.text, position: "center", angle: -90, fontSize: 10.5, ...labelBase }}
          />
        ))}
      </ComposedChart>
    </div>
  );
}

const letters = [
  { t: "a", x: 2, y: 0 },
  { t: "b", x: 271, y: 0 },
  { t: "c", x: 541, y: 0 },
  { t: "d", x: 2, y: 212 },
  { t: "e", x: 271, y: 212 },
  { t: "f", x: 541, y: 212 },
];
const titles = [
  { t: "2Theta (\u00b0)", x: 141, y: 210, size: 16 },
  { t: "Binding Energy (eV)", x: 415, y: 214, size: 12.5 },
  { t: "Binding Energy (eV)", x: 683, y: 216, size: 12.5 },
  { t: "Binding Energy (eV)", x: 141, y: 429, size: 12.5 },
  { t: "Binding Energy (eV)", x: 413, y: 429, size: 12.5 },
  { t: "Binding Energy (eV)", x: 683, y: 429, size: 12.5 },
];
const yTitles = [
  { x: 8, y: 97, size: 16 },
  { x: 281, y: 102, size: 14 },
  { x: 551, y: 102, size: 14 },
  { x: 10, y: 319, size: 14 },
  { x: 281, y: 319, size: 14 },
  { x: 551, y: 318, size: 14 },
];

export default function App() {
  return (
    <div
      style={{
        position: "absolute",
        left: 0,
        top: 0,
        width: 817,
        height: 435,
        background: "#fff",
        overflow: "hidden",
        fontFamily: SERIF,
        color: INK,
      }}
    >
      <XrdPanel />
      <XpsPanel p={panelB} />
      <XpsPanel p={panelC} />
      <XpsPanel p={panelD} />
      <XpsPanel p={panelE} />
      <XpsPanel p={panelF} />
      {letters.map((l) => (
        <div
          key={l.t}
          style={{ position: "absolute", left: l.x, top: l.y, fontSize: 19, fontWeight: 700, lineHeight: "normal" }}
        >
          {l.t}
        </div>
      ))}
      {titles.map((t, k) => (
        <div
          key={k}
          style={{
            position: "absolute",
            left: t.x,
            top: t.y,
            transform: "translate(-50%, -50%)",
            fontSize: t.size,
            fontWeight: 700,
            whiteSpace: "nowrap",
            lineHeight: 1,
          }}
        >
          {t.t}
        </div>
      ))}
      {yTitles.map((t, k) => (
        <div
          key={k}
          style={{
            position: "absolute",
            left: t.x,
            top: t.y,
            transform: "translate(-50%, -50%) rotate(-90deg)",
            fontSize: t.size,
            fontWeight: 700,
            whiteSpace: "nowrap",
            lineHeight: 1,
          }}
        >
          Intensity (a.u.)
        </div>
      ))}
    </div>
  );
}
